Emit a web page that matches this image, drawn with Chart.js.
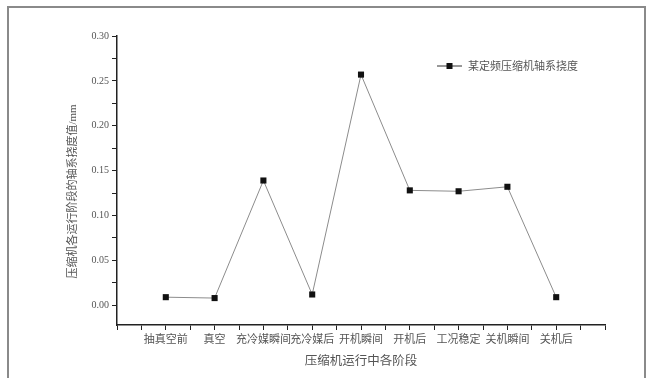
<!DOCTYPE html>
<html>
<head>
<meta charset="utf-8">
<script src="https://cdn.jsdelivr.net/npm/chart.js@4/dist/chart.umd.min.js"></script>
<style>
  html, body { margin: 0; padding: 0; background: #fff; }
  #wrap { position: relative; width: 652px; height: 378px; overflow: hidden; }
  #frame { position: absolute; left: 7px; top: 6px; width: 639px; height: 400px; border: 2px solid #8a8a8a; box-sizing: border-box; }
  canvas { position: absolute; left: 0; top: 0; }
</style>
</head>
<body>
<div id="wrap">
  <div id="frame"></div>
  <canvas id="chart" width="652" height="378"></canvas>
</div>
<script>
// stages of the compressor run (x categories)
var stages = ["抽真空前", "真空", "充冷媒瞬间", "充冷媒后", "开机瞬间", "开机后", "工况稳定", "关机瞬间", "关机后"];
// shaft deflection, mm
var deflection = [0.009, 0.008, 0.139, 0.012, 0.257, 0.128, 0.127, 0.132, 0.009];
var seriesName = "某定频压缩机轴系挠度";
var yTitle = "压缩机各运行阶段的轴系挠度值/mm";
var xTitle = "压缩机运行中各阶段";

var fontFam = "'Liberation Serif', 'Noto Sans CJK SC', serif";
var textCol = "#555";

// legend drawn inside the plot, top right
var legendBox = {
  id: 'legendBox',
  afterDraw: function(chart) {
    var ctx = chart.ctx, a = chart.chartArea;
    var x = a.right - 168, y = a.top + 30;
    ctx.save();
    ctx.strokeStyle = '#333';
    ctx.lineWidth = 1;
    ctx.beginPath();
    ctx.moveTo(x, y);
    ctx.lineTo(x + 25, y);
    ctx.stroke();
    ctx.fillStyle = '#111';
    ctx.fillRect(x + 9.5, y - 3, 6, 6);
    ctx.fillStyle = textCol;
    ctx.font = "11px " + fontFam;
    ctx.textBaseline = 'middle';
    ctx.fillText(seriesName, x + 31, y + 1);
    ctx.restore();
  }
};

var points = deflection.map(function(v, i) { return { x: i + 1, y: v }; });

new Chart(document.getElementById('chart'), {
  type: 'line',
  data: {
    datasets: [{
      label: seriesName,
      data: points,
      borderColor: '#8c8c8c',
      borderWidth: 1,
      pointStyle: 'rect',
      pointRadius: 4.3,
      pointBackgroundColor: '#111',
      pointBorderColor: '#111',
      pointBorderWidth: 0,
      tension: 0
    }]
  },
  options: {
    responsive: false,
    animation: false,
    layout: { padding: { left: 62, right: 47, top: 36, bottom: 9 } },
    plugins: { legend: { display: false }, tooltip: { enabled: false } },
    scales: {
      x: {
        type: 'linear',
        min: 0,
        max: 10,
        afterFit: function(s) { s.height = 44; },
        border: { color: '#222', width: 1.5 },
        grid: { drawOnChartArea: false, tickLength: 5, color: '#222', tickWidth: 1 },
        ticks: {
          stepSize: 0.5,
          autoSkip: false,
          maxRotation: 0,
          padding: 4,
          color: textCol,
          font: { family: fontFam, size: 11 },
          callback: function(v) {
            return (Number.isInteger(v) && v >= 1 && v <= stages.length) ? stages[v - 1] : '';
          }
        },
        title: { display: true, text: xTitle, color: textCol, font: { family: fontFam, size: 12.5 }, padding: 0 }
      },
      y: {
        min: -0.022,
        max: 0.30,
        afterFit: function(s) { s.width = 55; },
        border: { color: '#222', width: 1.5 },
        grid: { drawOnChartArea: false, tickLength: 5, color: '#222', tickWidth: 1 },
        ticks: {
          stepSize: 0.025,
          includeBounds: false,
          padding: 3,
          color: textCol,
          font: { family: fontFam, size: 10 },
          callback: function(v) {
            var k = v / 0.05;
            return Math.abs(k - Math.round(k)) < 1e-6 ? v.toFixed(2) : '';
          }
        },
        // trailing full-width spaces push the visible title a bit lower, as in the original
        title: { display: true, text: yTitle + "\u3000\u3000", color: textCol, font: { family: fontFam, size: 11 }, padding: { top: 5, bottom: 0 } }
      }
    }
  },
  plugins: [legendBox]
});
</script>
</body>
</html>
